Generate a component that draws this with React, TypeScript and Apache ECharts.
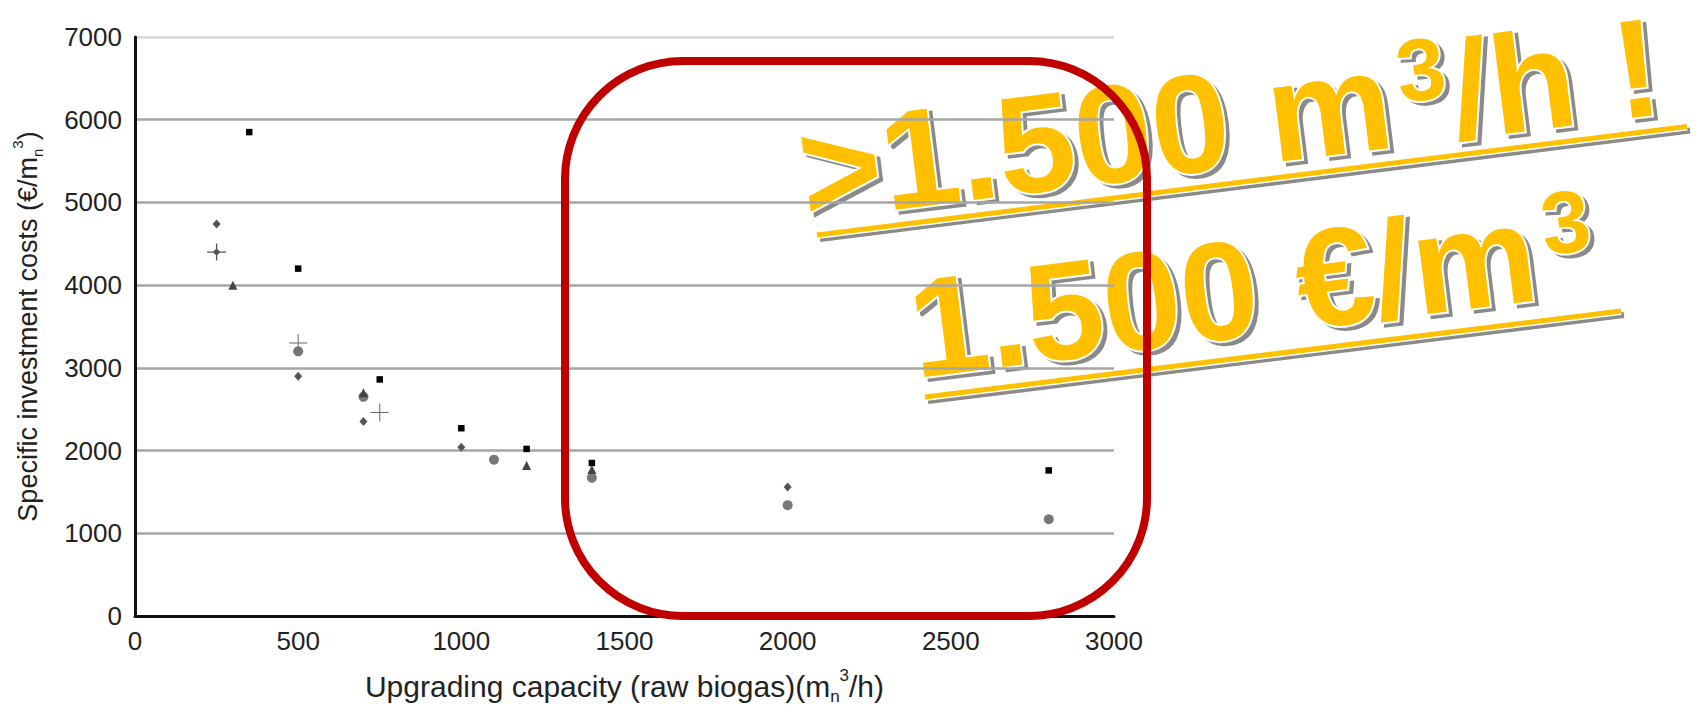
import React, { useEffect, useRef } from "react";
import * as echarts from "echarts";

// ---- data ----
const squareData: number[][] = [[350, 5850], [500, 4200], [750, 2860], [1000, 2270], [1200, 2020], [1400, 1850], [2800, 1760]];
const diamondData: number[][] = [[250, 4740], [500, 2900], [700, 2350], [1000, 2040], [2000, 1560]];
const circleData: number[][] = [[500, 3200], [700, 2650], [1100, 1890], [1400, 1670], [2000, 1340], [2800, 1170]];
const triangleData: number[][] = [[300, 4000], [700, 2700], [1200, 1820], [1400, 1770]];
const plusData: number[][] = [[500, 3300], [750, 2460]];
const starData: number[][] = [[250, 4400]];

const xMin = 0, xMax = 3000, xStep = 500;
const yMin = 0, yMax = 7000, yStep = 1000;

const xTitle = "{a|Upgrading capacity (raw biogas)(m}{sub|n}{sup|3}{a|/h)}";
const yTitle = "{a|Specific investment costs (€/m}{sub|n}{sup|3}{a|)}";

const line1Main = ">1.500 m";
const line1Sup = "3";
const line1Rest = "/h !";
const line2Main = "1.500 €/m";
const line2Sup = "3";

const FONT = '"Liberation Sans", Arial, Helvetica, sans-serif';

const PLUS_PATH =
  "path://M-0.055,-1L0.055,-1L0.055,1L-0.055,1Z M-1,-0.055L1,-0.055L1,0.055L-1,0.055Z";
const STAR_PATH =
  "path://M0,-0.42L0.42,0L0,0.42L-0.42,0Z M-0.07,-1L0.07,-1L0.07,1L-0.07,1Z M-1,-0.07L1,-0.07L1,0.07L-1,0.07Z";

function richStyle(size: number) {
  return {
    a: { fontSize: size, fontFamily: FONT, color: "#222", lineHeight: size + 8 },
    sub: { fontSize: Math.round(size * 0.55), fontFamily: FONT, color: "#222", verticalAlign: "bottom" },
    sup: { fontSize: Math.round(size * 0.55), fontFamily: FONT, color: "#222", verticalAlign: "top" },
  };
}

function scatter(name: string, data: number[][], symbol: string, size: any, color: string) {
  return {
    name,
    type: "scatter",
    data,
    symbol,
    symbolSize: size,
    itemStyle: { color, opacity: 1 },
    silent: true,
    emphasis: { disabled: true },
    z: 3,
  };
}

const BIG = 140;
const SUP = 88;
const ROT = (7.1 * Math.PI) / 180;

function fancyText(text: string, x: number, y: number, size: number): any[] {
  const base = {
    text,
    fontSize: size,
    fontWeight: "bold",
    fontFamily: FONT,
    align: "left",
    verticalAlign: "middle",
  };
  return [
    { type: "text", x: x + 4, y: y + 4, style: { ...base, fill: "#8a8a8a", stroke: "#8a8a8a", lineWidth: 3 } },
    { type: "text", x, y, style: { ...base, fill: "#ffffff", stroke: "#ffffff", lineWidth: 4 } },
    { type: "text", x, y, style: { ...base, fill: "#FFC000" } },
  ];
}

function underline(x1: number, y1: number, x2: number, y2: number): any[] {
  return [
    { type: "line", shape: { x1: x1 + 3, y1: y1 + 4, x2: x2 + 3, y2: y2 + 4 }, style: { stroke: "#8a8a8a", lineWidth: 6 } },
    { type: "line", shape: { x1, y1, x2, y2 }, style: { stroke: "#ffffff", lineWidth: 8 } },
    { type: "line", shape: { x1, y1, x2, y2 }, style: { stroke: "#FFC000", lineWidth: 5 } },
  ];
}

export default function App() {
  const ref = useRef<HTMLDivElement>(null);
  useEffect(() => {
    if (!ref.current) return;
    const chart = echarts.init(ref.current, undefined, { renderer: "svg" });
    const midBig = -0.3465 * BIG;
    const midSup = -44 - 0.3465 * SUP;
    const w1 = 4.253 * BIG;
    const w2 = 4.503 * BIG;
    chart.setOption({
      animation: false,
      backgroundColor: "#ffffff",
      grid: { left: 135, right: 582, top: 37, bottom: 90, containLabel: false },
      xAxis: {
        type: "value",
        min: xMin,
        max: xMax,
        interval: xStep,
        axisLine: { show: true, lineStyle: { color: "#111", width: 3 } },
        axisTick: { show: false },
        splitLine: { show: false },
        axisLabel: { fontSize: 26, fontFamily: FONT, color: "#222", margin: 12, formatter: (v: number) => String(v) },
        name: xTitle,
        nameLocation: "middle",
        nameGap: 51,
        nameTextStyle: { fontSize: 30, fontFamily: FONT, color: "#222", rich: richStyle(30) },
      },
      yAxis: {
        type: "value",
        min: yMin,
        max: yMax,
        interval: yStep,
        axisLine: { show: true, onZero: false, lineStyle: { color: "#111", width: 3 } },
        axisTick: { show: false },
        splitLine: {
          show: true,
          lineStyle: {
            color: ["#a6a6a6", "#a6a6a6", "#a6a6a6", "#a6a6a6", "#a6a6a6", "#a6a6a6", "#a6a6a6", "#d6d6d6"],
            width: 2.5,
          },
        },
        axisLabel: { fontSize: 26, fontFamily: FONT, color: "#222", margin: 13, formatter: (v: number) => String(v) },
        name: yTitle,
        nameLocation: "middle",
        nameRotate: 90,
        nameGap: 90,
        nameTextStyle: { fontSize: 27, fontFamily: FONT, color: "#222", rich: richStyle(27) },
      },
      series: [
        scatter("squares", squareData, "rect", 6.5, "#000000"),
        scatter("diamonds", diamondData, "diamond", [8, 9], "#555555"),
        scatter("circles", circleData, "circle", 10, "#777777"),
        scatter("triangles", triangleData, "triangle", 9, "#444444"),
        scatter("plus", plusData, PLUS_PATH, 18, "#666666"),
        scatter("star", starData, STAR_PATH, [19, 17], "#555555"),
      ],
      graphic: [
        {
          type: "rect",
          z: 10,
          silent: true,
          shape: { x: 565, y: 61, width: 582, height: 555, r: 118 },
          style: { fill: "none", stroke: "#C00000", lineWidth: 8 },
        },
        {
          type: "group",
          z: 20,
          silent: true,
          children: [
            ...underline(817, 235, 1687, 126.5),
            ...underline(925, 397, 1621, 311),
          ],
        },
        {
          type: "group",
          z: 21,
          x: 806,
          y: 221,
          rotation: ROT,
          silent: true,
          children: [
            ...fancyText(line1Main, 0, midBig, BIG),
            ...fancyText(line1Sup, w1 + 9, midSup, SUP),
            ...fancyText(line1Rest, w1 + 9 + 0.556 * SUP + 3, midBig, BIG),
          ],
        },
        {
          type: "group",
          z: 21,
          x: 916,
          y: 378,
          rotation: ROT,
          silent: true,
          children: [
            ...fancyText(line2Main, 0, midBig, BIG),
            ...fancyText(line2Sup, w2 + 9, midSup, SUP),
          ],
        },
      ],
    });
    return () => chart.dispose();
  }, []);
  return (
    <div
      ref={ref}
      style={{ position: "absolute", left: 0, top: 0, width: 1696, height: 710, background: "#fff" }}
    />
  );
}
